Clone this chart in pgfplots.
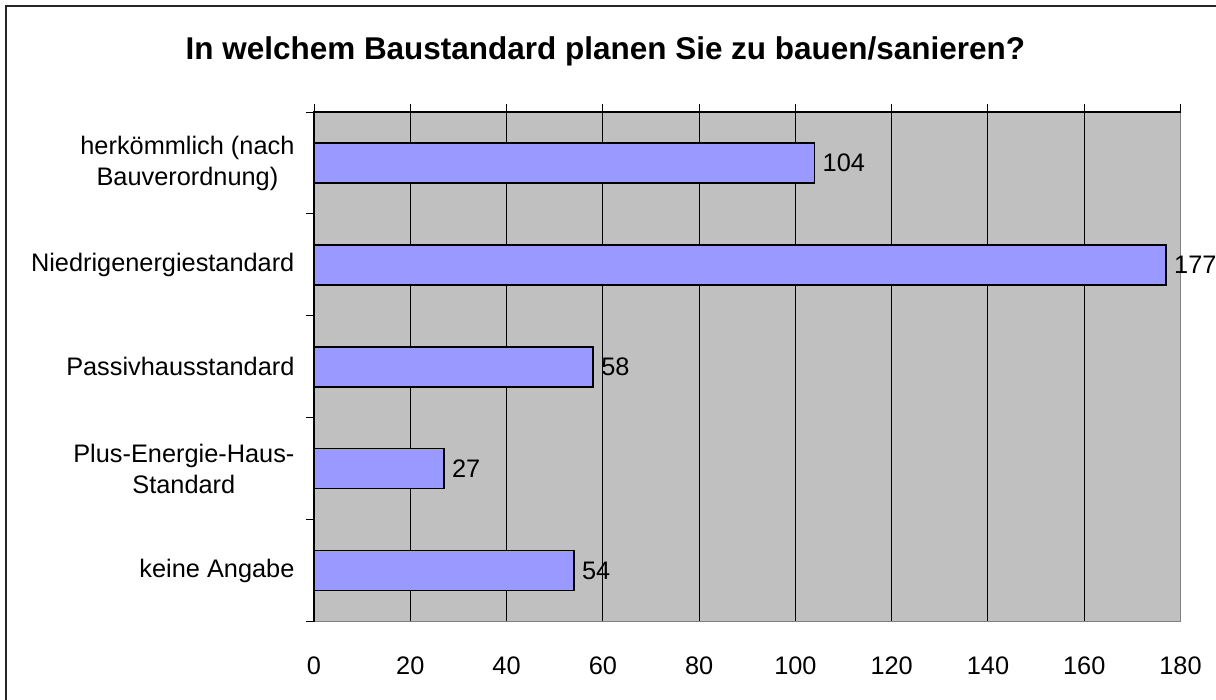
\documentclass[border=0pt]{standalone}
\usepackage{fontspec}
\setmainfont{Liberation Sans}
\usepackage{pgfplots}
\pgfplotsset{compat=1.18}
\definecolor{barblue}{HTML}{9999FF}
\definecolor{plotgray}{HTML}{C0C0C0}
\definecolor{edgegray}{HTML}{808080}
\begin{document}
\begin{tikzpicture}
\useasboundingbox (0,0) rectangle (912pt,524.25pt);
\draw[line width=1.2pt, black!85] (4.5pt,-2pt) -- (4.5pt,519.75pt) -- (914pt,519.75pt);
\node[anchor=base, font=\fontsize{23.6pt}{28pt}\selectfont\bfseries] at (454pt,479.25pt) {In welchem Baustandard planen Sie zu bauen/sanieren?};
\begin{axis}[
  at={(235.5pt,58.1pt)}, anchor=south west, scale only axis,
  width=649.9pt, height=382.1pt,
  xmin=0, xmax=180, ymin=0.5, ymax=5.5, y dir=reverse,
  clip=false,
  axis background/.style={fill=plotgray},
  axis line style={draw=none},
  /pgf/number format/assume math mode=true,
  xtick={0,20,...,180}, xtick pos=right, xticklabel pos=left,
  xmajorgrids, major grid style={black, line width=0.75pt},
  tick align=outside, major tick length=6pt,
  tick style={black, line width=0.75pt},
  ytick={0.5,1.5,...,5.5}, yticklabels={}, ytick pos=left,
  extra y ticks={1,2,3,4,5},
  extra y tick labels={{herkömmlich (nach\\Bauverordnung)},Niedrigenergiestandard,Passivhausstandard,{Plus-Energie-Haus-\\Standard},keine Angabe},
  extra y tick style={major tick length=0pt, grid=none},
  yticklabel style={font=\fontsize{19pt}{23.25pt}\selectfont, align=center, inner sep=0pt, xshift=-14.5pt},
  xticklabel style={font=\fontsize{19pt}{22pt}\selectfont, inner sep=0pt, yshift=-20.5pt},
  xbar, bar width=30pt,
  point meta=x,
  nodes near coords,
  every node near coord/.append style={font=\fontsize{19pt}{22pt}\selectfont, anchor=west, inner sep=0pt, xshift=5.5pt, black},
]
\addplot[fill=barblue, draw=black, line width=1.1pt] coordinates {(104,1) (177,2) (58,3) (27,4) (54,5)};
\draw[edgegray, line width=1.1pt] (axis cs:180,0.5) -- (axis cs:180,5.5) -- (axis cs:0,5.5);
\draw[black, line width=1.1pt] (axis cs:0,5.5) -- (axis cs:0,0.5) -- (axis cs:180,0.5);
\end{axis}
\end{tikzpicture}
\end{document}
